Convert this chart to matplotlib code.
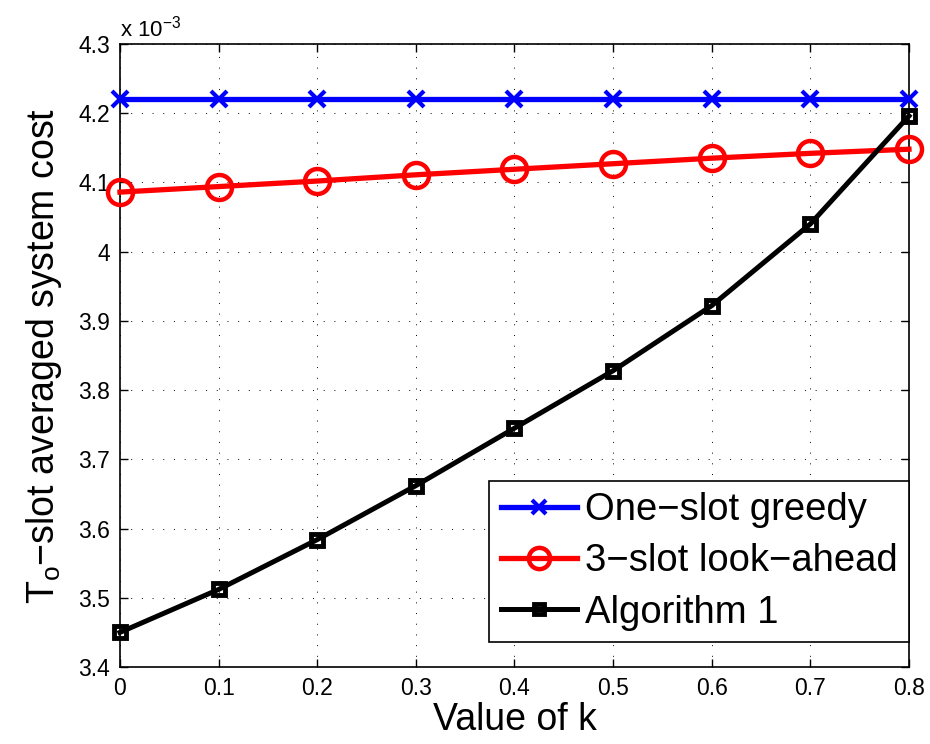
import matplotlib
matplotlib.use("Agg")
import matplotlib.pyplot as plt
from matplotlib.ticker import FuncFormatter, FixedLocator

plt.rcParams['font.family'] = ['Liberation Sans', 'DejaVu Sans']
plt.rcParams['mathtext.fontset'] = 'custom'
plt.rcParams['mathtext.rm'] = 'Liberation Sans'
plt.rcParams['mathtext.it'] = 'Liberation Sans:italic'

# Weight parameter k
k_values = [0.0, 0.1, 0.2, 0.3, 0.4, 0.5, 0.6, 0.7, 0.8]

# Averaged system cost of each scheme
greedy_cost = [4.220e-3, 4.220e-3, 4.220e-3, 4.220e-3, 4.220e-3,
               4.220e-3, 4.220e-3, 4.220e-3, 4.220e-3]
lookahead_cost = [4.086e-3, 4.094e-3, 4.102e-3, 4.111e-3, 4.119e-3,
                  4.127e-3, 4.135e-3, 4.142e-3, 4.148e-3]
algorithm_cost = [3.450e-3, 3.512e-3, 3.584e-3, 3.662e-3, 3.745e-3,
                  3.828e-3, 3.922e-3, 4.040e-3, 4.196e-3]

series_labels = ['One\u2212slot greedy', '3\u2212slot look\u2212ahead', 'Algorithm 1']

x_ticks = [0, 0.1, 0.2, 0.3, 0.4, 0.5, 0.6, 0.7, 0.8]
y_ticks = [3.4e-3, 3.5e-3, 3.6e-3, 3.7e-3, 3.8e-3, 3.9e-3, 4.0e-3, 4.1e-3, 4.2e-3, 4.3e-3]

fig = plt.figure(figsize=(9.3, 7.44), dpi=100)
ax = fig.add_axes([0.129, 0.1035, 0.8484, 0.8374])

ax.plot(k_values, greedy_cost, color=(0, 0, 1), lw=3.8, marker='x', ms=12,
        mew=3.0, label=series_labels[0], clip_on=False, zorder=3)
ax.plot(k_values, lookahead_cost, color=(1, 0, 0), lw=3.8, marker='o', ms=18,
        mew=3.2, mfc='none', label=series_labels[1], clip_on=False, zorder=4)
ax.plot(k_values, algorithm_cost, color='black', lw=3.6, marker='s', ms=8,
        mew=3.5, mfc='none', label=series_labels[2], clip_on=False, zorder=5)

ax.set_xlim(0, 0.8)
ax.set_ylim(3.4e-3, 4.3e-3)
ax.xaxis.set_major_locator(FixedLocator(x_ticks))
ax.yaxis.set_major_locator(FixedLocator(y_ticks))
ax.xaxis.set_major_formatter(FuncFormatter(lambda v, p: '%g' % round(v, 3)))
ax.yaxis.set_major_formatter(FuncFormatter(lambda v, p: '%g' % round(v * 1e3, 3)))

ax.tick_params(axis='both', direction='in', length=6, width=1.0, labelsize=16.5,
               top=True, right=True, pad=7)
for s in ax.spines.values():
    s.set_linewidth(1.2)

ax.grid(True, color='black', linestyle=(0, (1, 10)), linewidth=0.7)
ax.set_axisbelow(True)

ax.text(0.0, 1.004, r'x 10$^{\mathregular{-3}}$', transform=ax.transAxes,
        ha='left', va='bottom', fontsize=16)

ax.set_xlabel('Value of k', fontsize=27, labelpad=2)
ax.set_ylabel(r'T$_{\mathregular{o}}$' + '\u2212slot averaged system cost', fontsize=27, labelpad=10)

leg = ax.legend(loc='lower right', bbox_to_anchor=(1.0, 0.04), borderaxespad=0.0,
                fontsize=27.5, frameon=True, fancybox=False, framealpha=1,
                edgecolor='black', handlelength=2.0, handletextpad=0.2,
                labelspacing=0.4, borderpad=0.3, markerscale=0.85)
leg.get_frame().set_linewidth(1.2)

fig.savefig('out.png', dpi=100)
